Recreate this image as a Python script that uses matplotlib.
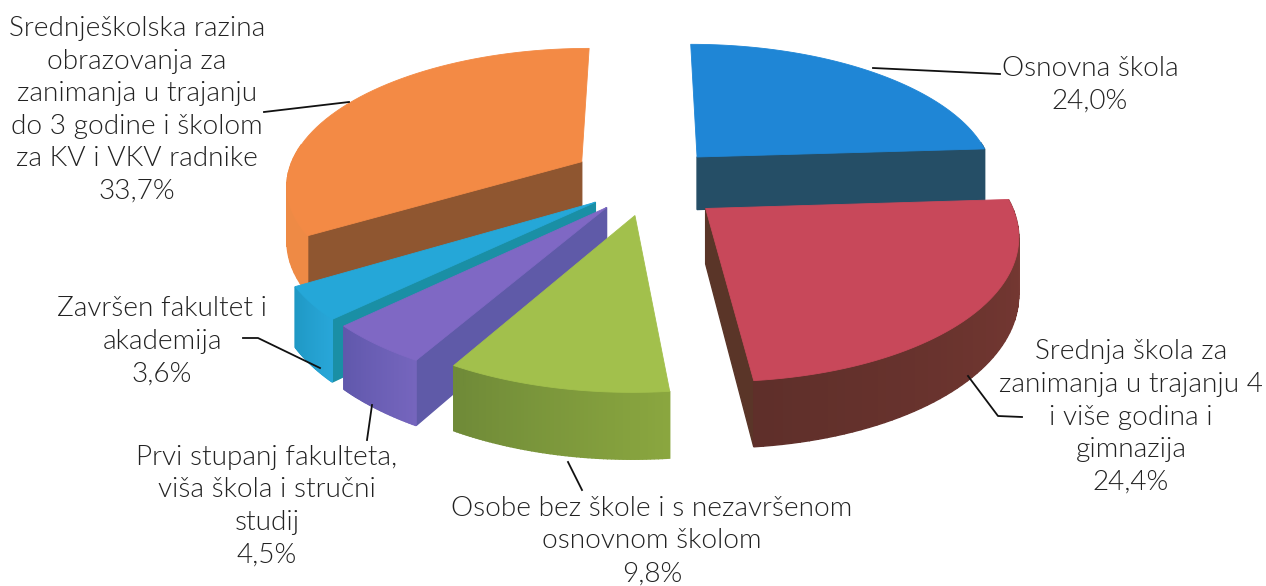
import numpy as np
import matplotlib
matplotlib.use("Agg")
import matplotlib.pyplot as plt
from matplotlib.colors import to_rgb

plt.rcParams['font.family'] = ['Lato', 'DejaVu Sans']

labels = [
    "Osnovna škola",
    "Srednja škola za\nzanimanja u trajanju 4\ni više godina i\ngimnazija",
    "Osobe bez škole i s nezavršenom\nosnovnom školom",
    "Prvi stupanj fakulteta,\nviša škola i stručni\nstudij",
    "Završen fakultet i\nakademija",
    "Srednješkolska razina\nobrazovanja za\nzanimanja u trajanju\ndo 3 godine i školom\nza KV i VKV radnike",
]
shares = [24.0, 24.4, 9.8, 4.5, 3.6, 33.7]
share_text = ["24,0%", "24,4%", "9,8%", "4,5%", "3,6%", "33,7%"]

top_colors = ['#1f86d6', '#c8485a', '#a2c04c', '#7f68c4', '#25a7d8', '#f38a45']
cut_colors = ['#254e66', '#5a3528', '#6f8a38', '#5f5aa8', '#1a8fa5', '#8f5630']
rim_from = ['#254e66', '#7a3a34', '#8aa63f', '#7565bd', '#28a6d8', '#ee8a45']
rim_to = ['#254e66', '#5f2f2a', '#6f8a38', '#6058ac', '#1f98c4', '#ee8a45']

explode = [0.23, 0.24, 0.20, 0.23, 0.24, 0.21]
radius = [0.975, 0.975, 0.98, 1.0, 1.0, 0.96]
# which cut faces show: the picture only has one per slice, none on green
show_start = [False, False, False, True, True, True]
show_end = [True, True, False, False, False, False]
# the scanned slices sit a few pixels off the ideal projection
nudge_x = [5, 3, 3, 6, 10, -8]
nudge_y = [0, 6, 7, 1, 1, -4]

# projection of the tilted disc, in pixels
cx, cy = 645, 180
scale_x, scale_y = 307, 141
persp = 0.164
height = 54


def project(x, y, i, low=False):
    w = 1 - persp * y
    px = cx + nudge_x[i] + scale_x * x / w
    py = cy + nudge_y[i] + scale_y * y / w
    if low:
        py = py + height / w
    return px, py


def quad(ax, xs, ys, i, color, z):
    a = project(xs[0], ys[0], i)
    b = project(xs[1], ys[1], i)
    c = project(xs[1], ys[1], i, True)
    d = project(xs[0], ys[0], i, True)
    ax.fill([a[0], b[0], c[0], d[0]], [a[1], b[1], c[1], d[1]],
            facecolor=color, edgecolor=color, linewidth=1.0, zorder=z)


def draw_slice(ax, i, start, end, layer):
    mid = (start + end) / 2
    ox = explode[i] * np.sin(mid)
    oy = -explode[i] * np.cos(mid)
    t = np.linspace(start, end, 60)
    xs = ox + radius[i] * np.sin(t)
    ys = oy - radius[i] * np.cos(t)

    # painter's order inside the slice, far faces first
    faces = []
    if show_start[i]:
        faces.append((([ox, xs[0]], [oy, ys[0]]), cut_colors[i]))
    if show_end[i]:
        faces.append((([ox, xs[-1]], [oy, ys[-1]]), cut_colors[i]))
    c0, c1 = np.array(to_rgb(rim_from[i])), np.array(to_rgb(rim_to[i]))
    for k in range(len(t) - 1):
        # back part of the rim is hidden behind the top
        if -np.cos(t[k]) < -0.12:
            continue
        f = k / (len(t) - 2)
        faces.append((([xs[k], xs[k + 1]], [ys[k], ys[k + 1]]), tuple(c0 + (c1 - c0) * f)))
    faces.sort(key=lambda q: np.mean(q[0][1]))
    for n, (pts, col) in enumerate(faces):
        quad(ax, pts[0], pts[1], i, col, layer + n * 0.001)

    px, py = project(np.r_[ox, xs], np.r_[oy, ys], i)
    ax.fill(px, py, facecolor=top_colors[i], edgecolor=top_colors[i],
            linewidth=0.6, zorder=layer + 0.5)


fig = plt.figure(figsize=(12.66, 5.86), dpi=100)
ax = fig.add_axes([0, 0, 1, 1])
ax.set_xlim(0, 1266)
ax.set_ylim(586, 0)
ax.axis('off')

edges = np.cumsum([0] + shares) / sum(shares) * 2 * np.pi
draw_order = [0, 5, 4, 3, 2, 1]
for layer, i in enumerate(draw_order):
    draw_slice(ax, i, edges[i], edges[i + 1], layer + 1)

label_pos = [(1090, 85), (1131, 417), (652, 541), (267, 506), (162, 341), (137, 110)]
for i in range(len(labels)):
    ax.text(label_pos[i][0], label_pos[i][1], labels[i] + "\n" + share_text[i],
            ha='center', va='center', fontsize=20.2, color='#222222',
            linespacing=1.38, zorder=20, fontweight=300)

leaders = [
    ([873, 1000], [68, 74]),
    ([968, 998, 1022], [376, 416, 417]),
    ([568, 582], [462, 490]),
    ([372, 367], [405, 440]),
    ([243, 258, 320], [338, 338, 368]),
    ([264, 349], [112, 102]),
]
for lx, ly in leaders:
    ax.plot(lx, ly, color='#111111', lw=1.3, zorder=15)

fig.savefig('out.png', dpi=100)
